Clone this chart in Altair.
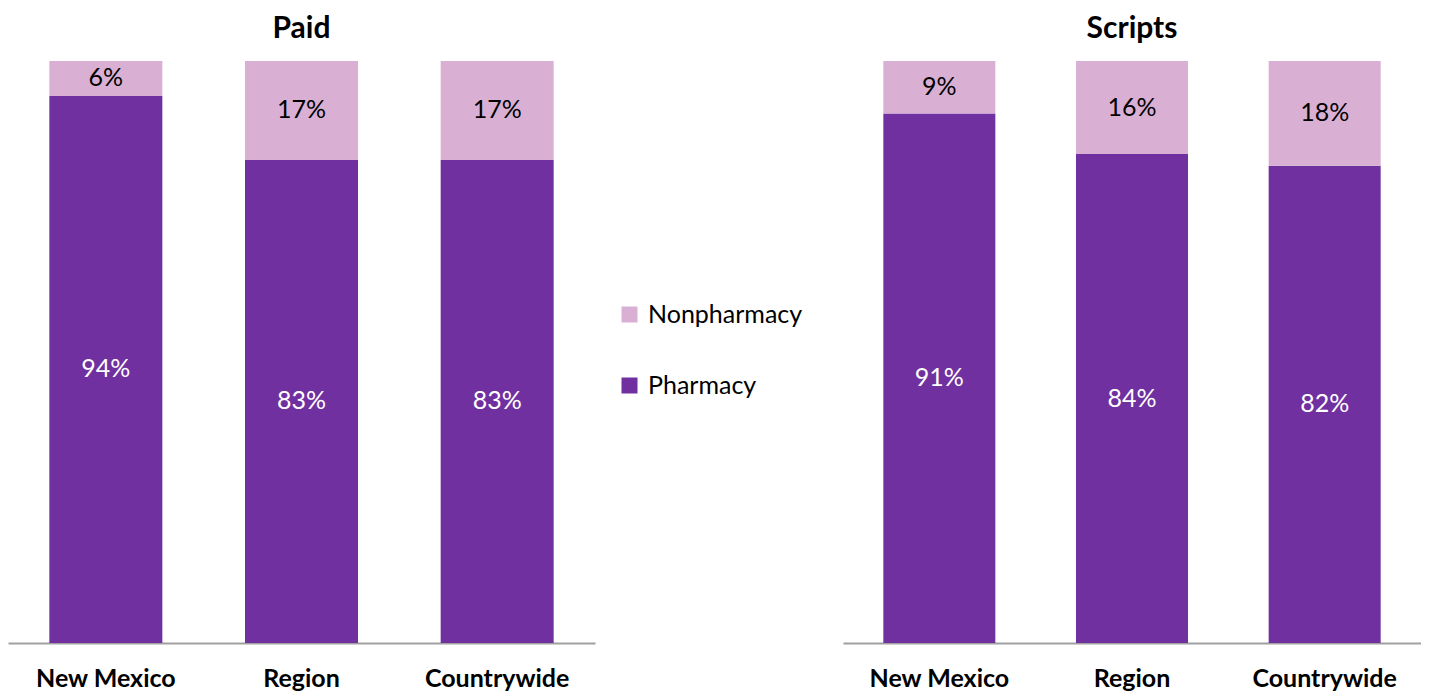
import altair as alt
import pandas as pd

FONT = "Lato"
DARK = "#7030A0"
LIGHT = "#D9B0D4"

categories = ["New Mexico", "Region", "Countrywide"]
series_names = ["Nonpharmacy", "Pharmacy"]

paid_pharmacy = [94, 83, 83]
paid_nonpharmacy = [6, 17, 17]
scripts_pharmacy = [91, 84, 82]
scripts_nonpharmacy = [9, 16, 18]


def long_table(ph, non):
    rows = []
    for c, p, n in zip(categories, ph, non):
        rows.append({"category": c, "series": "Pharmacy", "value": p, "order": 0})
        rows.append({"category": c, "series": "Nonpharmacy", "value": n, "order": 1})
    return pd.DataFrame(rows)


color_scale = alt.Scale(domain=series_names, range=[LIGHT, DARK])


def panel(title, df, width, barsize):
    base = alt.Chart(df).transform_stack(
        stack="value", groupby=["category"],
        sort=[alt.SortField("order", order="ascending")], as_=["v0", "v1"]
    ).transform_calculate(
        mid="(datum.v0 + datum.v1) / 2", label="datum.value + '%'"
    )
    x = alt.X(
        "category:N", sort=categories, title=None,
        scale=alt.Scale(paddingInner=0, paddingOuter=0),
        axis=alt.Axis(labelAngle=0, ticks=False, domainColor="#A0A0A0", domainWidth=2,
                      labelFontSize=25, labelFontWeight="bold", labelPadding=23,
                      labelColor="black", labelFont=FONT, grid=False),
    )
    bars = base.mark_bar(size=barsize).encode(
        x=x,
        y=alt.Y("v0:Q", scale=alt.Scale(domain=[0, 100], nice=False), axis=None),
        y2="v1:Q",
        color=alt.Color("series:N", scale=color_scale, title=None),
    )
    text = base.mark_text(fontSize=25, font=FONT).encode(
        x=x,
        y=alt.Y("mid:Q", scale=alt.Scale(domain=[0, 100], nice=False), axis=None),
        text="label:N",
        color=alt.condition("datum.series == 'Pharmacy'", alt.value("white"), alt.value("black")),
    )
    return alt.layer(bars, text).properties(
        width=width, height=582,
        title=alt.TitleParams(title, fontSize=30, fontWeight="bold", font=FONT,
                              offset=17, anchor="middle", color="black"),
    )


left = panel("Paid", long_table(paid_pharmacy, paid_nonpharmacy), 587, 113)
right = panel("Scripts", long_table(scripts_pharmacy, scripts_nonpharmacy), 578, 112)

chart = alt.hconcat(left, right, spacing=248).properties(
    padding={"left": 0, "top": 6, "right": 0, "bottom": 0}
).configure_view(stroke=None).configure_legend(
    orient="none", legendX=609, legendY=241, symbolType="square", symbolSize=256,
    symbolStrokeWidth=0, labelFontSize=25, labelFont=FONT, labelColor="black",
    rowPadding=45, labelOffset=6, labelLimit=400,
)

chart.save("out.html", embed_options={"renderer": "svg", "actions": False})
